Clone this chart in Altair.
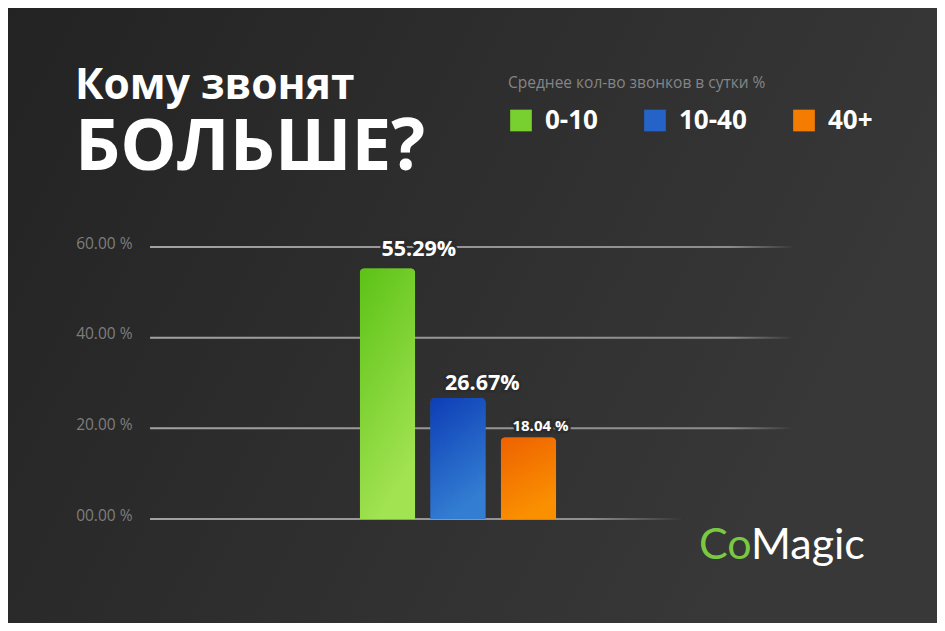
import altair as alt
import pandas as pd

# ---- data ----
title_line1 = ["Кому звонят"]
title_line2 = ["БОЛЬШЕ?"]
legend_title = "Среднее кол-во звонков в сутки %"
categories = ["0-10", "10-40", "40+"]
shares = [55.29, 26.67, 18.04]
bar_labels = ["55.29%", "26.67%", "18.04 %"]
y_ticks = [0, 20, 40, 60]
logo_parts = ["Co", "Magic"]

legend_colors = ["#78d030", "#2563c9", "#f47c00"]

df = pd.DataFrame({"cat": categories, "share": shares, "label": bar_labels})
grid_df = pd.DataFrame({"tick": [t for t in y_ticks if t > 0]})
zero_df = pd.DataFrame({"tick": [t for t in y_ticks if t == 0]})

# ---- layout (pixels) ----
W, H = 645, 272
PL, PT = 142, 239
TOTAL_W, TOTAL_H = 929, 615


def lin(stops, x1=0, y1=0, x2=0, y2=1):
    return alt.Gradient(
        gradient="linear", x1=x1, y1=y1, x2=x2, y2=y2,
        stops=[alt.GradientStop(offset=o, color=c) for o, c in stops],
    )


bg_grad = lin([(0, "#232323"), (1, "#383838")], x1=0, y1=0, x2=1, y2=0.35)
grid_grad = lin([(0, "#a2a2a2"), (0.9, "#8c8c8c"), (1, "#353535")], x2=1, y2=0)
zero_grad = lin([(0, "#a2a2a2"), (0.82, "#8f8f8f"), (1, "#333333")], x2=1, y2=0)
bar_grads = [
    lin([(0, "#5cc216"), (1, "#a2e352")], x1=0, y1=0, x2=0.35, y2=1),
    lin([(0, "#0d3db6"), (1, "#337ed2")], x1=0, y1=0, x2=0.35, y2=1),
    lin([(0, "#ee6200"), (1, "#fa9000")], x1=0, y1=0, x2=0.35, y2=1),
]

y_scale = alt.Scale(domain=[0, 60], nice=False, zero=True)
y_axis = alt.Axis(
    values=y_ticks,
    labelExpr="format(datum.value, '05.2f') + ' %'",
    grid=False, domain=False, ticks=False, title=None,
    labelFont="Open Sans", labelFontSize=15.5, labelColor="#7e7e7e",
    labelPadding=18, labelOffset=-4, zindex=2,
)
x_enc = alt.X(
    "cat:N", axis=None, title=None,
    scale=alt.Scale(domain=categories, range=[209.7, 406.2],
                    paddingInner=0.2128, paddingOuter=0),
)

background = alt.Chart(pd.DataFrame({"a": [0]})).mark_rect(fill=bg_grad).encode(
    x=alt.value(-PL), x2=alt.value(TOTAL_W - PL),
    y=alt.value(-PT), y2=alt.value(TOTAL_H - PT),
)

grid = alt.Chart(grid_df).transform_calculate(
    lo="datum.tick - 0.22", hi="datum.tick + 0.22"
).mark_rect(fill=grid_grad).encode(
    x=alt.value(0), x2=alt.value(W),
    y=alt.Y("lo:Q", scale=y_scale, axis=y_axis),
    y2="hi:Q",
)

zero = alt.Chart(zero_df).transform_calculate(
    lo="datum.tick - 0.22", hi="datum.tick + 0.22"
).mark_rect(fill=zero_grad).encode(
    x=alt.value(0), x2=alt.value(535),
    y=alt.Y("lo:Q", scale=y_scale, axis=y_axis),
    y2="hi:Q",
)

bars_base = alt.Chart(df).mark_bar(
    cornerRadiusTopLeft=5, cornerRadiusTopRight=5
).encode(
    x=x_enc,
    y=alt.Y("share:Q", scale=y_scale, axis=y_axis),
    color=alt.Color(
        "cat:N",
        scale=alt.Scale(domain=categories, range=legend_colors),
        legend=alt.Legend(
            orient="none", legendX=358, legendY=-171, direction="horizontal",
            title=legend_title, titleFont="Open Sans", titleFontSize=15.5,
            titleFontWeight="normal", titleColor="#858585", titlePadding=16,
            titleLimit=500,
            labelFont="Open Sans", labelFontSize=26, labelFontWeight="bold",
            labelColor="#ffffff", labelLimit=200, labelOffset=11,
            symbolType="square", symbolSize=470, symbolStrokeWidth=0,
            symbolOpacity=1, columnPadding=44, zindex=2,
        ),
    ),
)

bar_layers = []
for c, g in zip(categories, bar_grads):
    bar_layers.append(
        alt.Chart(df).transform_filter(alt.datum.cat == c).mark_bar(
            fill=g, cornerRadiusTopLeft=5, cornerRadiusTopRight=5
        ).encode(
            x=x_enc,
            y=alt.Y("share:Q", scale=y_scale, axis=y_axis),
        )
    )

dx_expr = alt.expr("datum.cat == '0-10' ? -6 : (datum.cat == '10-40' ? -13 : -16)")
dy_expr = alt.expr("datum.cat == '0-10' ? -12 : (datum.cat == '10-40' ? -8 : -6)")
fs_expr = alt.expr("datum.cat == '40+' ? 15 : 21.5")

label_kw = dict(align="left", baseline="alphabetic", font="Open Sans",
                fontWeight="bold", dx=dx_expr, dy=dy_expr, fontSize=fs_expr)

labels_halo = alt.Chart(df).mark_text(
    stroke="#2c2c2c", strokeWidth=5, color="#2c2c2c", **label_kw
).encode(x=x_enc, y=alt.Y("share:Q", scale=y_scale, axis=y_axis), text="label:N")

labels = alt.Chart(df).mark_text(color="#ffffff", **label_kw).encode(
    x=x_enc, y=alt.Y("share:Q", scale=y_scale, axis=y_axis), text="label:N"
)

t1 = alt.Chart(pd.DataFrame({"t": title_line1})).mark_text(
    align="left", baseline="alphabetic", font="Open Sans", fontWeight="bold",
    fontSize=42.5, color="#ffffff"
).encode(x=alt.value(-75), y=alt.value(-148), text="t:N")

t2 = alt.Chart(pd.DataFrame({"t": title_line2})).mark_text(
    align="left", baseline="alphabetic", font="Open Sans", fontWeight="bold",
    fontSize=71, color="#ffffff"
).encode(x=alt.value(-75), y=alt.value(-77), text="t:N")

logo1 = alt.Chart(pd.DataFrame({"t": logo_parts[:1]})).mark_text(
    align="left", baseline="alphabetic", font="Lato", fontSize=43,
    color="#7ac943"
).encode(x=alt.value(549), y=alt.value(312), text="t:N")

logo2 = alt.Chart(pd.DataFrame({"t": logo_parts[1:]})).mark_text(
    align="left", baseline="alphabetic", font="Lato", fontSize=43,
    color="#ffffff"
).encode(x=alt.value(601), y=alt.value(312), text="t:N")

chart = alt.layer(
    background, grid, zero, bars_base, *bar_layers, labels_halo, labels,
    t1, t2, logo1, logo2,
).properties(
    width=W, height=H,
    padding={"left": PL, "top": PT, "right": TOTAL_W - PL - W,
             "bottom": TOTAL_H - PT - H},
    autosize=alt.AutoSizeParams(type="none"),
    background="#2c2c2c",
).configure_view(stroke=None)

chart.save("out.html", embed_options={"renderer": "svg", "actions": False})
